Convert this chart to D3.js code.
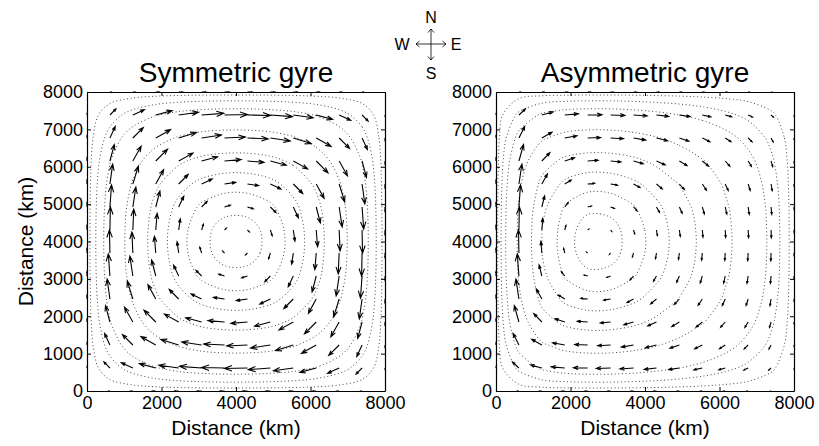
<!DOCTYPE html>
<html><head><meta charset="utf-8">
<script src="https://cdn.jsdelivr.net/npm/d3@7"></script>
<style>
body{margin:0;background:#fff}
svg{display:block}
text{font-family:"Liberation Sans",Arial,Helvetica,sans-serif;fill:#000}
</style>
</head><body>
<svg id="chart" width="819" height="446"></svg>
<script>
// ---------------- data ----------------
const gridKm = [0, 615.4, 1230.8, 1846.2, 2461.5, 3076.9, 3692.3, 4307.7, 4923.1, 5538.5, 6153.8, 6769.2, 7384.6, 8000];
const xTicks = [0, 2000, 4000, 6000, 8000];
const yTicks = [0, 1000, 2000, 3000, 4000, 5000, 6000, 7000, 8000];
const titles = ["Symmetric gyre", "Asymmetric gyre"];
const axisLabel = "Distance (km)";
const compass = ["N", "W", "E", "S"];
const contourLevels = [0.034, 0.1, 0.19, 0.416, 0.636, 0.786, 0.894, 0.968];

// rows: index 0 = y 0 km (south) ... 13 = y 8000 km (north); columns west -> east
const symU = [
 [0,-0.5,-1,-1.4,-1.7,-1.9,-2,-2,-1.9,-1.7,-1.4,-1,-0.5,0],
 [0,-2.6,-5,-7.1,-8.6,-9.6,-10,-10,-9.6,-8.6,-7.1,-5,-2.6,0],
 [0,-2.3,-4.5,-6.4,-7.7,-8.6,-9,-9,-8.6,-7.7,-6.4,-4.5,-2.3,0],
 [0,-1.9,-3.6,-5.1,-6.2,-6.9,-7.2,-7.2,-6.9,-6.2,-5.1,-3.6,-1.9,0],
 [0,-1.2,-2.4,-3.4,-4.1,-4.6,-4.8,-4.8,-4.6,-4.1,-3.4,-2.4,-1.2,0],
 [0,-0.7,-1.3,-1.8,-2.2,-2.4,-2.5,-2.5,-2.4,-2.2,-1.8,-1.3,-0.7,0],
 [0,-0.2,-0.4,-0.6,-0.7,-0.8,-0.8,-0.8,-0.8,-0.7,-0.6,-0.4,-0.2,0],
 [0,0.2,0.4,0.6,0.7,0.8,0.8,0.8,0.8,0.7,0.6,0.4,0.2,0],
 [0,0.7,1.3,1.8,2.2,2.4,2.5,2.5,2.4,2.2,1.8,1.3,0.7,0],
 [0,1.2,2.4,3.4,4.1,4.6,4.8,4.8,4.6,4.1,3.4,2.4,1.2,0],
 [0,1.9,3.6,5.1,6.2,6.9,7.2,7.2,6.9,6.2,5.1,3.6,1.9,0],
 [0,2.3,4.5,6.4,7.7,8.6,9,9,8.6,7.7,6.4,4.5,2.3,0],
 [0,2.6,5,7.1,8.6,9.6,10,10,9.6,8.6,7.1,5,2.6,0],
 [0,0.5,1,1.4,1.7,1.9,2,2,1.9,1.7,1.4,1,0.5,0]
];
const symV = [
 [0,0,0,0,0,0,0,0,0,0,0,0,0,0],
 [0.5,2.6,2.3,1.9,1.2,0.7,0.2,-0.2,-0.7,-1.2,-1.9,-2.3,-2.6,-0.5],
 [1,5,4.5,3.6,2.4,1.3,0.4,-0.4,-1.3,-2.4,-3.6,-4.5,-5,-1],
 [1.4,7.1,6.4,5.1,3.4,1.8,0.6,-0.6,-1.8,-3.4,-5.1,-6.4,-7.1,-1.4],
 [1.7,8.6,7.7,6.2,4.1,2.2,0.7,-0.7,-2.2,-4.1,-6.2,-7.7,-8.6,-1.7],
 [1.9,9.6,8.6,6.9,4.6,2.4,0.8,-0.8,-2.4,-4.6,-6.9,-8.6,-9.6,-1.9],
 [2,10,9,7.2,4.8,2.5,0.8,-0.8,-2.5,-4.8,-7.2,-9,-10,-2],
 [2,10,9,7.2,4.8,2.5,0.8,-0.8,-2.5,-4.8,-7.2,-9,-10,-2],
 [1.9,9.6,8.6,6.9,4.6,2.4,0.8,-0.8,-2.4,-4.6,-6.9,-8.6,-9.6,-1.9],
 [1.7,8.6,7.7,6.2,4.1,2.2,0.7,-0.7,-2.2,-4.1,-6.2,-7.7,-8.6,-1.7],
 [1.4,7.1,6.4,5.1,3.4,1.8,0.6,-0.6,-1.8,-3.4,-5.1,-6.4,-7.1,-1.4],
 [1,5,4.5,3.6,2.4,1.3,0.4,-0.4,-1.3,-2.4,-3.6,-4.5,-5,-1],
 [0.5,2.6,2.3,1.9,1.2,0.7,0.2,-0.2,-0.7,-1.2,-1.9,-2.3,-2.6,-0.5],
 [0,0,0,0,0,0,0,0,0,0,0,0,0,0]
];
const symPsi = [
 [0,0,0,0,0,0,0,0,0,0,0,0,0,0],
 [0,.068,.13,.185,.224,.248,.259,.259,.248,.224,.185,.13,.068,0],
 [0,.13,.25,.355,.43,.478,.498,.498,.478,.43,.355,.25,.13,0],
 [0,.185,.355,.504,.611,.678,.706,.706,.678,.611,.504,.355,.185,0],
 [0,.224,.43,.611,.74,.821,.856,.856,.821,.74,.611,.43,.224,0],
 [0,.248,.478,.678,.821,.912,.95,.95,.912,.821,.678,.478,.248,0],
 [0,.259,.498,.706,.856,.95,.99,.99,.95,.856,.706,.498,.259,0],
 [0,.259,.498,.706,.856,.95,.99,.99,.95,.856,.706,.498,.259,0],
 [0,.248,.478,.678,.821,.912,.95,.95,.912,.821,.678,.478,.248,0],
 [0,.224,.43,.611,.74,.821,.856,.856,.821,.74,.611,.43,.224,0],
 [0,.185,.355,.504,.611,.678,.706,.706,.678,.611,.504,.355,.185,0],
 [0,.13,.25,.355,.43,.478,.498,.498,.478,.43,.355,.25,.13,0],
 [0,.068,.13,.185,.224,.248,.259,.259,.248,.224,.185,.13,.068,0],
 [0,0,0,0,0,0,0,0,0,0,0,0,0,0]
];
const asymU = [
 [0,-0.6,-1,-1.2,-1.2,-1.2,-1.2,-1.1,-0.9,-0.7,-0.6,-0.4,-0.2,0],
 [0,-2.8,-4.9,-5.9,-6.2,-6.2,-5.9,-5.3,-4.6,-3.7,-2.8,-1.9,-1,0],
 [0,-2.5,-4.4,-5.3,-5.6,-5.6,-5.3,-4.8,-4.1,-3.3,-2.5,-1.7,-0.9,0],
 [0,-2,-3.5,-4.2,-4.5,-4.5,-4.2,-3.8,-3.3,-2.7,-2,-1.4,-0.7,0],
 [0,-1.3,-2.4,-2.8,-3,-3,-2.8,-2.5,-2.2,-1.8,-1.3,-0.9,-0.5,0],
 [0,-0.7,-1.2,-1.5,-1.6,-1.6,-1.5,-1.3,-1.2,-0.9,-0.7,-0.5,-0.3,0],
 [0,-0.2,-0.4,-0.5,-0.5,-0.5,-0.5,-0.4,-0.4,-0.3,-0.2,-0.2,-0.1,0],
 [0,0.2,0.4,0.5,0.5,0.5,0.5,0.4,0.4,0.3,0.2,0.2,0.1,0],
 [0,0.7,1.2,1.5,1.6,1.6,1.5,1.3,1.2,0.9,0.7,0.5,0.3,0],
 [0,1.3,2.4,2.8,3,3,2.8,2.5,2.2,1.8,1.3,0.9,0.5,0],
 [0,2,3.5,4.2,4.5,4.5,4.2,3.8,3.3,2.7,2,1.4,0.7,0],
 [0,2.5,4.4,5.3,5.6,5.6,5.3,4.8,4.1,3.3,2.5,1.7,0.9,0],
 [0,2.8,4.9,5.9,6.2,6.2,5.9,5.3,4.6,3.7,2.8,1.9,1,0],
 [0,0.6,1,1.2,1.2,1.2,1.2,1.1,0.9,0.7,0.6,0.4,0.2,0]
];
const asymV = [
 [0,0,0,0,0,0,0,0,0,0,0,0,0,0],
 [0.5,2.6,1.3,0.5,0.1,-0.2,-0.4,-0.6,-0.7,-0.8,-0.8,-0.9,-0.9,-0.3],
 [1,5,2.5,1,0.2,-0.3,-0.9,-1.2,-1.4,-1.6,-1.6,-1.7,-1.7,-0.5],
 [1.4,7.1,3.6,1.4,0.3,-0.4,-1.2,-1.7,-2,-2.2,-2.3,-2.3,-2.4,-0.7],
 [1.7,8.6,4.3,1.7,0.3,-0.5,-1.5,-2.1,-2.4,-2.7,-2.8,-2.8,-2.9,-0.9],
 [1.9,9.6,4.8,1.9,0.4,-0.6,-1.6,-2.3,-2.7,-3,-3.1,-3.2,-3.2,-1],
 [2,10,5,2,0.4,-0.6,-1.7,-2.4,-2.8,-3.1,-3.2,-3.3,-3.4,-1],
 [2,10,5,2,0.4,-0.6,-1.7,-2.4,-2.8,-3.1,-3.2,-3.3,-3.4,-1],
 [1.9,9.6,4.8,1.9,0.4,-0.6,-1.6,-2.3,-2.7,-3,-3.1,-3.2,-3.2,-1],
 [1.7,8.6,4.3,1.7,0.3,-0.5,-1.5,-2.1,-2.4,-2.7,-2.8,-2.8,-2.9,-0.9],
 [1.4,7.1,3.6,1.4,0.3,-0.4,-1.2,-1.7,-2,-2.2,-2.3,-2.3,-2.4,-0.7],
 [1,5,2.5,1,0.2,-0.3,-0.9,-1.2,-1.4,-1.6,-1.6,-1.7,-1.7,-0.5],
 [0.5,2.6,1.3,0.5,0.1,-0.2,-0.4,-0.6,-0.7,-0.8,-0.8,-0.9,-0.9,-0.3],
 [0,0,0,0,0,0,0,0,0,0,0,0,0,0]
];
const asymPsi = [
 [0,0,0,0,0,0,0,0,0,0,0,0,0,0],
 [0,.117,.205,.246,.26,.259,.245,.221,.191,.156,.119,.081,.042,0],
 [0,.225,.395,.473,.5,.498,.472,.426,.367,.301,.23,.157,.081,0],
 [0,.32,.561,.672,.71,.706,.67,.604,.521,.427,.326,.222,.115,0],
 [0,.387,.679,.814,.86,.856,.812,.732,.631,.517,.395,.269,.139,0],
 [0,.43,.754,.903,.955,.95,.902,.813,.701,.574,.438,.299,.155,0],
 [0,.448,.786,.941,.995,.99,.939,.847,.73,.598,.457,.311,.161,0],
 [0,.448,.786,.941,.995,.99,.939,.847,.73,.598,.457,.311,.161,0],
 [0,.43,.754,.903,.955,.95,.902,.813,.701,.574,.438,.299,.155,0],
 [0,.387,.679,.814,.86,.856,.812,.732,.631,.517,.395,.269,.139,0],
 [0,.32,.561,.672,.71,.706,.67,.604,.521,.427,.326,.222,.115,0],
 [0,.225,.395,.473,.5,.498,.472,.426,.367,.301,.23,.157,.081,0],
 [0,.117,.205,.246,.26,.259,.245,.221,.191,.156,.119,.081,.042,0],
 [0,0,0,0,0,0,0,0,0,0,0,0,0,0]
];

// ---------------- drawing ----------------
const svg = d3.select("#chart");
svg.append("rect").attr("width", 819).attr("height", 446).attr("fill", "#fff");

const panels = [
  {title: titles[0], U: symU, V: symV, psi: symPsi, left: 87, ylab: true},
  {title: titles[1], U: asymU, V: asymV, psi: asymPsi, left: 496, ylab: false}
];
const TOP = 92, W = 298, H = 299;
const kmPerUnit = 62;   // quiver scale
const alpha = 0.33, beta = 0.36;
const FONT = '"Liberation Sans",Arial,Helvetica,sans-serif';

panels.forEach((p, pi) => {
  const x = d3.scaleLinear().domain([0, 8000]).range([p.left, p.left + W]);
  const y = d3.scaleLinear().domain([0, 8000]).range([TOP + H, TOP]);
  const g = svg.append("g");
  const clipId = "clip" + pi;
  svg.append("clipPath").attr("id", clipId).append("rect")
    .attr("x", p.left).attr("y", TOP).attr("width", W).attr("height", H);

  // contours of the streamfunction
  const n = gridKm.length;
  const values = [];
  p.psi.forEach(row => row.forEach(v => values.push(v)));
  const cgen = d3.contours().size([n, n]).thresholds(contourLevels);
  const cx = d3.scaleLinear().domain([0.5, n - 0.5]).range([gridKm[0], gridKm[n - 1]]);
  const line = d3.line().curve(d3.curveCatmullRomClosed.alpha(0.5));
  const cg = g.append("g").attr("clip-path", `url(#${clipId})`);
  cgen(values).forEach(c => {
    c.coordinates.forEach(poly => poly.forEach(ring => {
      const pts = ring.slice(0, -1).map(([a, b]) => [x(cx(a)), y(cx(b))]);
      cg.append("path").attr("d", line(pts))
        .attr("fill", "none").attr("stroke", "#444").attr("stroke-width", 1)
        .attr("stroke-dasharray", "1 2.6");
    }));
  });

  // quiver arrows
  const ag = g.append("g");
  p.U.forEach((row, j) => row.forEach((u, i) => {
    const v = p.V[j][i];
    if (u === 0 && v === 0) return;
    const du = u * kmPerUnit, dv = v * kmPerUnit;
    const x0 = gridKm[i], y0 = gridKm[j];
    const x1 = x0 + du, y1 = y0 + dv;
    const b1 = [x1 - alpha * (du + beta * dv), y1 - alpha * (dv - beta * du)];
    const b2 = [x1 - alpha * (du - beta * dv), y1 - alpha * (dv + beta * du)];
    const d = `M${x(x0)},${y(y0)}L${x(x1)},${y(y1)}M${x(b1[0])},${y(b1[1])}L${x(x1)},${y(y1)}L${x(b2[0])},${y(b2[1])}`;
    ag.append("path").attr("d", d).attr("fill", "none")
      .attr("stroke", "#000").attr("stroke-width", 1.1);
  }));

  // axes (ticks inside, box on)
  const fmt = d3.format("d");
  const ax = g.append("g");
  ax.append("g").attr("transform", `translate(0,${TOP + H})`)
    .call(d3.axisBottom(x).tickValues(xTicks).tickFormat(fmt).tickSizeInner(-4).tickSizeOuter(0).tickPadding(5));
  ax.append("g").attr("transform", `translate(${p.left},0)`)
    .call(d3.axisLeft(y).tickValues(yTicks).tickFormat(fmt).tickSizeInner(-4).tickSizeOuter(0).tickPadding(4));
  ax.append("g").attr("transform", `translate(0,${TOP})`)
    .call(d3.axisTop(x).tickValues(xTicks).tickSizeInner(-4).tickSizeOuter(0).tickFormat(""));
  ax.append("g").attr("transform", `translate(${p.left + W},0)`)
    .call(d3.axisRight(y).tickValues(yTicks).tickSizeInner(-4).tickSizeOuter(0).tickFormat(""));
  ax.selectAll("g").attr("font-size", null).attr("font-family", null);
  ax.selectAll("text").attr("font-family", FONT).attr("font-size", 18).attr("fill", "#000");
  ax.selectAll(".domain").attr("stroke", "#000").attr("stroke-width", 1.2);
  ax.selectAll(".tick line").attr("stroke", "#000");

  // titles & labels
  svg.append("text").attr("x", p.left + W / 2).attr("y", 82).attr("text-anchor", "middle")
    .attr("font-size", 28).text(p.title);
  svg.append("text").attr("x", p.left + W / 2).attr("y", 435).attr("text-anchor", "middle")
    .attr("font-size", 21).text(axisLabel);
  if (p.ylab) {
    svg.append("text").attr("transform", `translate(33,${TOP + H / 2}) rotate(-90)`)
      .attr("text-anchor", "middle").attr("font-size", 21).text(axisLabel);
  }
});

// compass rose
const cc = [431, 44];
const cg2 = svg.append("g").attr("stroke", "#000").attr("stroke-width", 0.8).attr("fill", "none");
[[0, -15], [0, 16], [-15, 0], [15, 0]].forEach(([dx, dy]) => {
  const tx = cc[0] + dx, ty = cc[1] + dy;
  const L = Math.hypot(dx, dy), ux = dx / L, uy = dy / L;
  cg2.append("path").attr("d",
    `M${cc[0]},${cc[1]}L${tx},${ty}M${tx - 3.5 * ux - 3 * uy},${ty - 3.5 * uy + 3 * ux}L${tx},${ty}L${tx - 3.5 * ux + 3 * uy},${ty - 3.5 * uy - 3 * ux}`);
});
const cpos = [[431, 23], [402, 50], [456, 50], [431, 79]];
compass.forEach((t, k) => svg.append("text").attr("x", cpos[k][0]).attr("y", cpos[k][1])
  .attr("text-anchor", "middle").attr("font-size", 16).text(t));
</script>
</body></html>
